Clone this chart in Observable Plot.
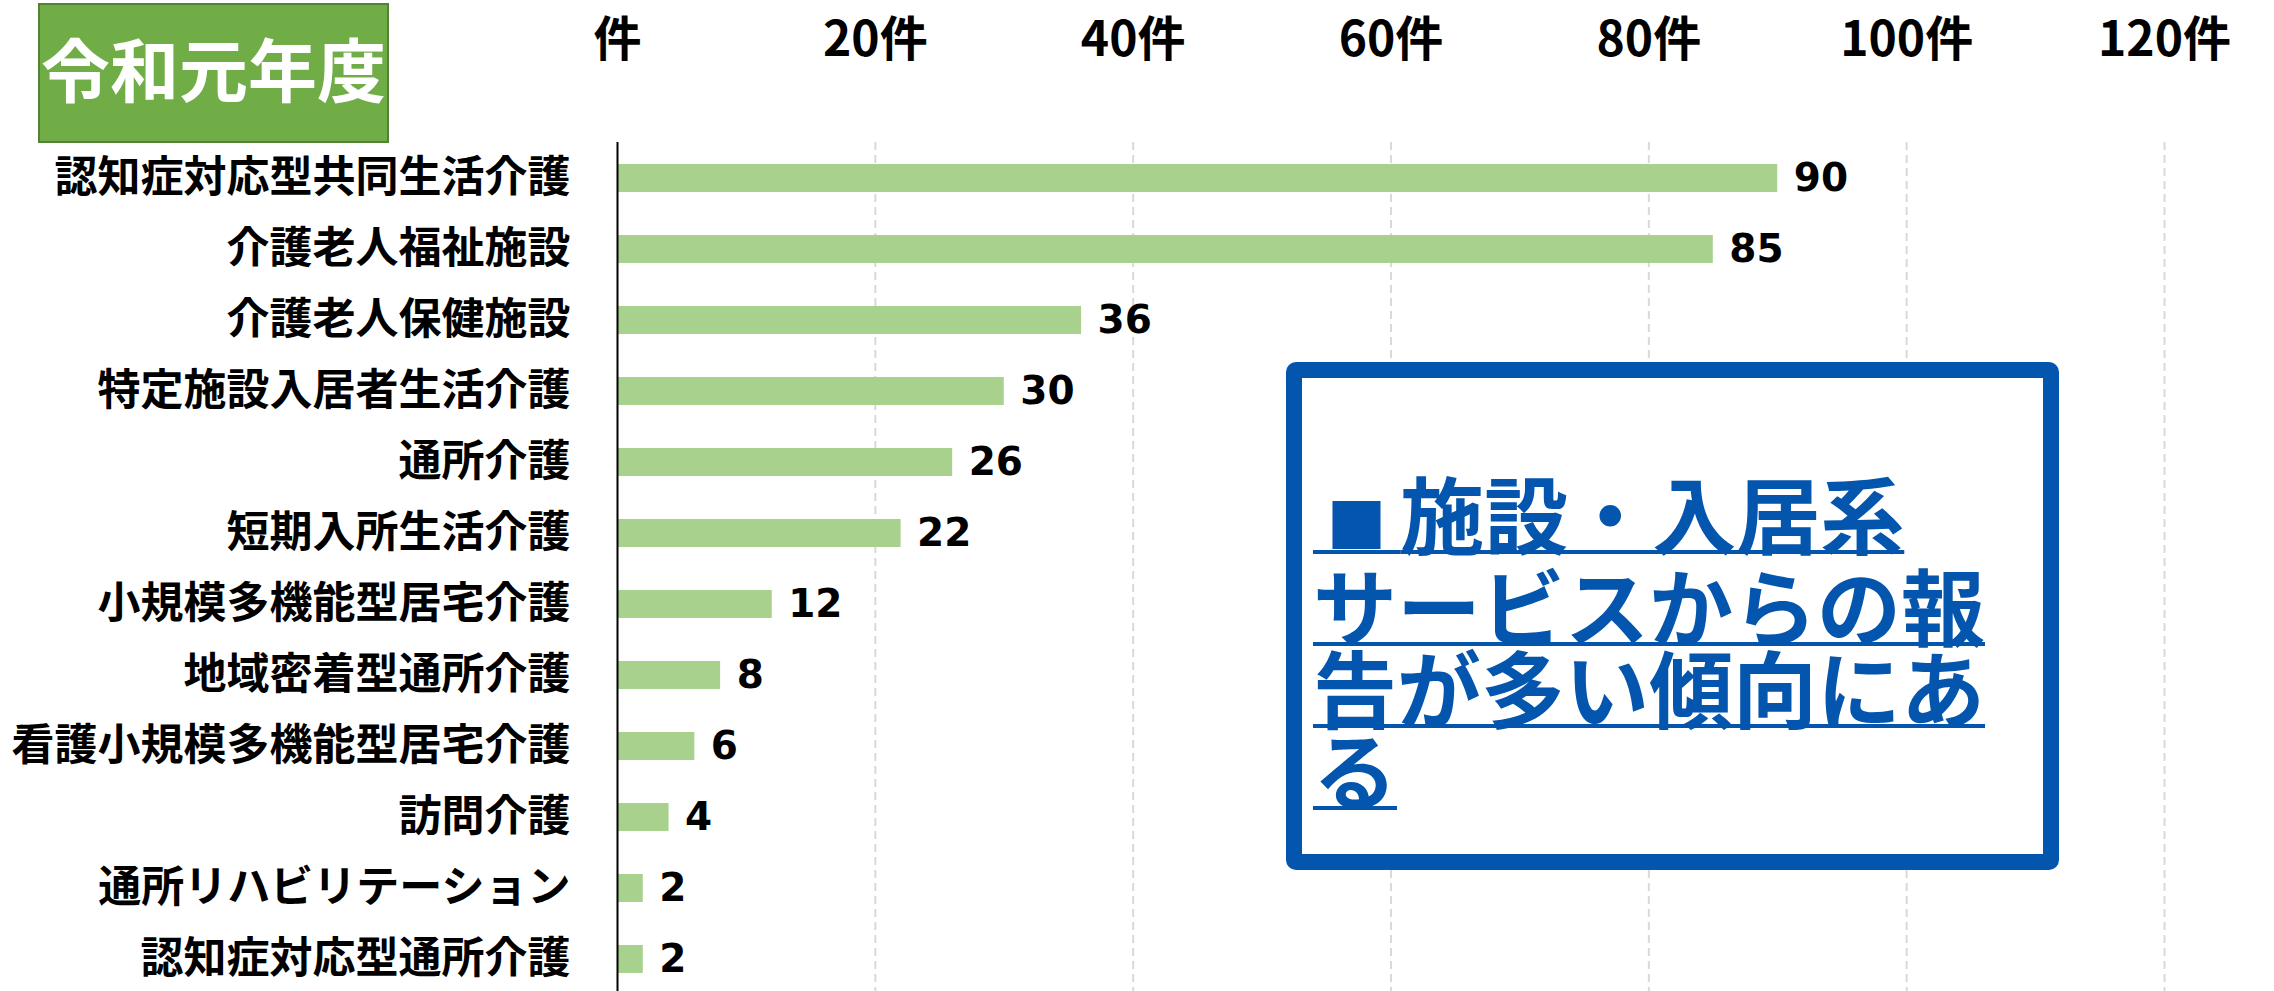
<!DOCTYPE html>
<html><head><meta charset="utf-8">
<script src="https://cdn.jsdelivr.net/npm/d3@7"></script>
<script src="https://cdn.jsdelivr.net/npm/@observablehq/plot@0.6"></script>
<style>
html,body{margin:0;padding:0;background:#fff;}
#wrap{position:relative;width:2274px;height:991px;overflow:hidden;background:#fff;}
#chart{position:absolute;left:0;top:0;}
#year{position:absolute;left:38px;top:3px;width:351px;height:140px;box-sizing:border-box;background:#70ad47;border:2px solid #548235;color:#fff;font-family:"Noto Sans CJK JP";font-weight:bold;font-size:69px;line-height:1;display:flex;align-items:center;justify-content:center;padding-bottom:12px;}
#note{position:absolute;left:1286px;top:362px;width:773px;height:508px;box-sizing:border-box;border:16px solid #0455ad;border-radius:10px;background:#fff;}
#noteText{position:absolute;left:1313px;top:471px;width:720px;color:#0455ad;font-family:"Noto Sans CJK JP";font-weight:bold;font-size:84px;line-height:82px;}
#noteText div{white-space:nowrap;}
#noteText .u{text-decoration:underline;text-decoration-thickness:4px;text-underline-offset:2px;}
#noteText .sq{font-size:60px;white-space:pre;}
</style>
</head><body>
<div id="wrap">
<div id="chart"></div>
<div id="year"></div>
<div id="note"></div>
<div id="noteText"></div>
</div>
<script>
const categories = [
  "認知症対応型共同生活介護",
  "介護老人福祉施設",
  "介護老人保健施設",
  "特定施設入居者生活介護",
  "通所介護",
  "短期入所生活介護",
  "小規模多機能型居宅介護",
  "地域密着型通所介護",
  "看護小規模多機能型居宅介護",
  "訪問介護",
  "通所リハビリテーション",
  "認知症対応型通所介護"
];
const values = [90, 85, 36, 30, 26, 22, 12, 8, 6, 4, 2, 2];
const xTicks = [0, 20, 40, 60, 80, 100, 120];
const tickUnit = "件";
const yearLabel = "令和元年度";
const noteBullet = "■";
const noteLines = ["施設・入居系", "サービスからの報", "告が多い傾向にあ", "る"];

const data = categories.map((c, i) => ({category: c, value: values[i]}));

const chart = Plot.plot({
  width: 2274,
  height: 991,
  marginLeft: 617,
  marginRight: 110,
  marginTop: 142,
  marginBottom: -4,
  style: {background: "transparent", fontFamily: "Noto Sans CJK JP", color: "#000"},
  x: {domain: [0, 120], label: null},
  y: {domain: categories, paddingInner: 0.6, paddingOuter: 0.3, label: null},
  marks: [
    Plot.gridX({ticks: xTicks.filter(d => d > 0), stroke: "#d9d9d9", strokeOpacity: 1, strokeWidth: 2, strokeDasharray: "8,5"}),
    Plot.barX(data, {x: "value", y: "category", fill: "#a9d18e"}),
    Plot.ruleX([0], {stroke: "#000", strokeWidth: 2}),
    Plot.axisX({ticks: xTicks, anchor: "top", tickSize: 0, tickPadding: 87, label: null,
      tickFormat: d => d === 0 ? tickUnit : d + tickUnit,
      fontSize: 48, fontWeight: "bold", fontFamily: "Noto Sans CJK JP", fill: "#000"}),
    Plot.axisY({tickSize: 0, tickPadding: 47, label: null, fontSize: 43, fontWeight: "bold", fontFamily: "Noto Sans CJK JP", fill: "#000"}),
    Plot.text(data, {x: "value", y: "category", text: d => String(d.value), textAnchor: "start", dx: 16,
      fontSize: 39, fontWeight: "bold", fontFamily: "DejaVu Sans", fill: "#000"})
  ]
});
document.getElementById("chart").appendChild(chart);
document.getElementById("year").textContent = yearLabel;
const nt = document.getElementById("noteText");
noteLines.forEach((l, i) => {
  const div = document.createElement("div");
  const span = document.createElement("span");
  span.className = "u";
  if (i === 0) {
    const sq = document.createElement("span");
    sq.className = "sq";
    sq.textContent = " " + noteBullet + " ";
    span.appendChild(sq);
  }
  span.appendChild(document.createTextNode(l));
  div.appendChild(span);
  nt.appendChild(div);
});
</script>
</body></html>
